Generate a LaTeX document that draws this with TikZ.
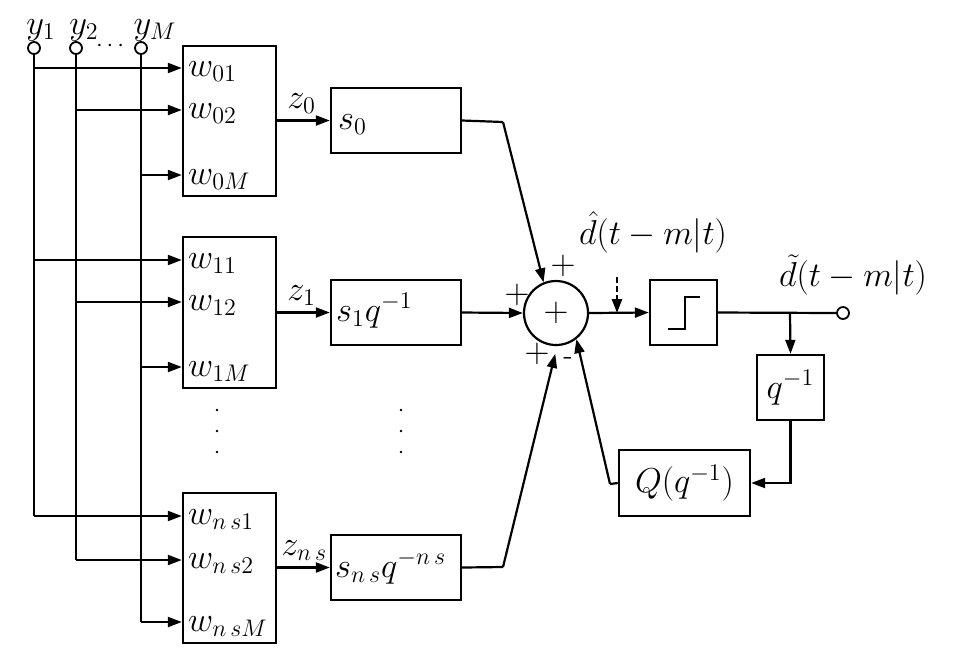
\documentclass[tikz,border=0pt]{standalone}
\usetikzlibrary{arrows.meta,calc}
\begin{document}
\begin{tikzpicture}[x=0.5pt,y=-0.5pt,
  every node/.style={font=\fontsize{17.28}{20}\selectfont},
  blk/.style={draw,line width=1.2pt,rectangle,inner sep=0pt},
  wire/.style={line width=1.1pt},
  arr/.style={wire,-{Triangle[length=7pt,width=5pt]}},
  term/.style={draw,circle,line width=0.9pt,minimum size=6pt,inner sep=0pt,fill=white},
  lbl/.style={inner sep=0pt}]
\useasboundingbox (0,0) rectangle (957,661);

% input terminals
\node[term] (y1) at (34,48) {};
\node[term] (y2) at (76,48) {};
\node[term] (yM) at (141,48) {};
\node[lbl,anchor=base] (ly1) at (41,34) {$y_1$};
\node[lbl,anchor=base] (ly2) at (84,34) {$y_2$};
\node[lbl,anchor=base] (lyM) at (155,34) {$y_M$};
\node[lbl,font=\fontsize{12}{14}\selectfont] (ydots) at (110,46) {$\cdots$};

% weight blocks
\node[blk,minimum width=46.5pt,minimum height=75pt] (b0) at (229.5,121) {};
\node[blk,minimum width=46.5pt,minimum height=75.5pt] (b1) at (229.5,312.5) {};
\node[blk,minimum width=46.5pt,minimum height=75pt] (bn) at (229.5,568) {};

% tap coordinates
\coordinate (p01) at (b0.west |- 0,68);
\coordinate (p02) at (b0.west |- 0,110);
\coordinate (p0M) at (b0.west |- 0,175);
\coordinate (p11) at (b1.west |- 0,260);
\coordinate (p12) at (b1.west |- 0,302);
\coordinate (p1M) at (b1.west |- 0,367);
\coordinate (pn1) at (bn.west |- 0,516);
\coordinate (pn2) at (bn.west |- 0,560);
\coordinate (pnM) at (bn.west |- 0,622);

\node[lbl,anchor=base west] (w01) at ($(p01)+(6,8)$) {$w_{01}$};
\node[lbl,anchor=base west] (w02) at ($(p02)+(6,8)$) {$w_{02}$};
\node[lbl,anchor=base west] (w0M) at ($(p0M)+(6,9)$) {$w_{0M}$};
\node[lbl,anchor=base west] (w11) at ($(p11)+(6,8)$) {$w_{11}$};
\node[lbl,anchor=base west] (w12) at ($(p12)+(6,8)$) {$w_{12}$};
\node[lbl,anchor=base west] (w1M) at ($(p1M)+(6,9)$) {$w_{1M}$};
\node[lbl,anchor=base west] (wn1) at ($(pn1)+(6,8)$) {$w_{n\,s1}$};
\node[lbl,anchor=base west] (wn2) at ($(pn2)+(6,8)$) {$w_{n\,s2}$};
\node[lbl,anchor=base west] (wnM) at ($(pnM)+(6,9)$) {$w_{n\,sM}$};

% input buses
\draw[wire] (y1.south) -- (y1 |- pn1);
\draw[wire] (y2.south) -- (y2 |- pn2);
\draw[wire] (yM.south) -- (yM |- pnM);
\foreach \p in {p01,p11,pn1} \draw[arr] (y1 |- \p) -- (\p);
\foreach \p in {p02,p12,pn2} \draw[arr] (y2 |- \p) -- (\p);
\foreach \p in {p0M,p1M,pnM} \draw[arr] (yM |- \p) -- (\p);

% s blocks
\node[blk,minimum width=65pt,minimum height=32.5pt] (s0) at (396,120.5) {};
\node[blk,minimum width=65pt,minimum height=32.5pt] (s1) at (396,312.5) {};
\node[blk,minimum width=65pt,minimum height=32.5pt] (sn) at (396,567.5) {};
\node[lbl,anchor=base west] (ls0) at ($(s0.west)+(8,9)$) {$s_0$};
\node[lbl,anchor=base west] (ls1) at ($(s1.west)+(6,9)$) {$s_1q^{-1}$};
\node[lbl,anchor=base west] (lsn) at ($(sn.west)+(5,10)$) {$s_{n\,s}q^{-n\,s}$};

\draw[arr] (b0.east |- s0.west) -- (s0.west);
\draw[arr] (b1.east |- s1.west) -- (s1.west);
\draw[arr] (bn.east |- sn.west) -- (sn.west);
\node[lbl,anchor=base west] (z0) at (287,108) {$z_0$};
\node[lbl,anchor=base west] (z1) at (287,300) {$z_1$};
\node[lbl,anchor=base west] (zn) at (281,555) {$z_{n\,s}$};

% vertical dots
\foreach \yy in {410,431,452} {
  \fill (217,\yy) circle (1.4);
  \fill (401,\yy) circle (1.4);
}

% summing junction
\node[draw,circle,line width=1.1pt,minimum size=32pt,inner sep=0pt] (sum) at (556,313) {$+$};
\node[lbl] (pl1) at (563,266) {$+$};
\node[lbl] (pl2) at (517,295) {$+$};
\node[lbl] (pl3) at (537,354) {$+$};
\node[lbl,font=\fontsize{14.4}{16}\selectfont] (mn) at (568,361) {-};

\coordinate (k0) at (503,122);
\coordinate (kn) at (503,567);
\draw[wire] (s0.east) -- (k0);
\draw[arr] (k0) -- (sum.112);
\draw[arr] (s1.east) -- (sum.west);
\draw[wire] (sn.east) -- (kn);
\draw[arr,shorten >=4pt] (kn) -- (sum.-88);

% quantizer
\node[blk,minimum width=33.5pt,minimum height=32.5pt] (st) at (683.5,312.5) {};
\draw[wire] ($(st.center)+(-15.5,16.5)$) -- ++(17,0) -- ++(0,-32) -- ++(15,0);
\draw[arr] (sum.east) -- (st.west);

\node[lbl] (dhat) at (653,232) {$\hat d(t-m|t)$};
\coordinate (dtop) at (617,277);
\draw[arr,dash pattern=on 3pt off 1.5pt,line width=1.3pt] (dtop) -- (dtop |- sum.east);

% output
\node[term] (out) at (843,313) {};
\node[lbl] (dtil) at (853,275) {$\tilde d(t-m|t)$};
\draw[wire] (st.east) -- (out.west);
\coordinate (jn) at (790,313);
\node[blk,minimum width=33.5pt,minimum height=32.5pt] (qd) at (790.5,387.5) {$q^{-1}$};
\draw[arr] (jn) -- (qd.north);
\node[blk,minimum width=65.5pt,minimum height=33pt] (Q) at (684.5,483) {$Q(q^{-1})$};
\draw[arr] (qd.south) |- (Q.east);
\coordinate (kq) at (610,484);
\draw[wire] (Q.west) -- (kq);
\draw[arr] (kq) -- (sum.-52);
\end{tikzpicture}
\end{document}
